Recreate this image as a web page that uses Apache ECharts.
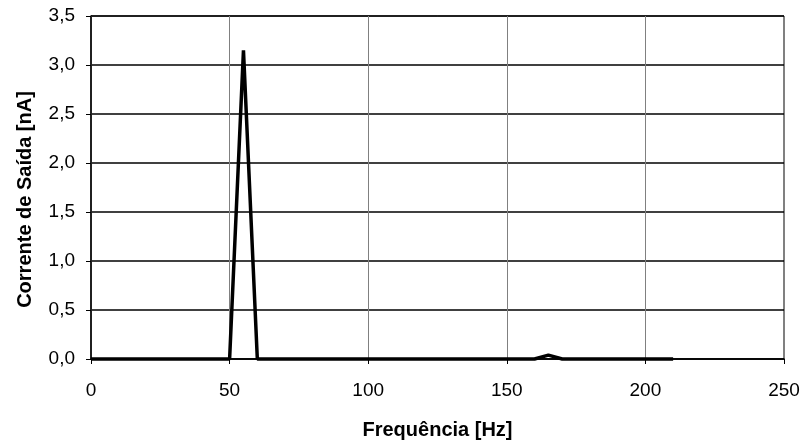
<!DOCTYPE html>
<html>
<head>
<meta charset="utf-8">
<script src="https://cdn.jsdelivr.net/npm/echarts@6/dist/echarts.min.js"></script>
<style>html,body{margin:0;padding:0;background:#fff}#c{width:803px;height:445px}</style>
</head>
<body>
<div id="c"></div>
<script>
const freqHz = [0,5,10,15,20,25,30,35,40,45,50,55,60,65,70,75,80,85,90,95,100,105,110,115,120,125,130,135,140,145,150,155,160,165,170,175,180,185,190,195,200,205,210];
const currentNA = [0,0,0,0,0,0,0,0,0,0,0,3.15,0,0,0,0,0,0,0,0,0,0,0,0,0,0,0,0,0,0,0,0,0,0.04,0,0,0,0,0,0,0,0,0];
const xTitle = 'Frequência [Hz]';
const yTitle = 'Corrente de Saída [nA]';

const chart = echarts.init(document.getElementById('c'), null, {renderer:'canvas'});
const font = 'Liberation Sans, Arial, sans-serif';
chart.setOption({
  animation:false,
  backgroundColor:'#fff',
  grid:{left:91,right:19,top:16,bottom:82,show:true,borderColor:'#000',borderWidth:1},
  xAxis:{
    type:'value',min:0,max:250,interval:50,
    name:xTitle,nameLocation:'middle',nameGap:61,
    nameTextStyle:{fontFamily:font,fontSize:20,fontWeight:'bold',color:'#000'},
    axisLine:{lineStyle:{color:'#000',width:1.5}},
    axisTick:{show:true,inside:false,length:5,lineStyle:{color:'#000'}},
    axisLabel:{fontFamily:font,fontSize:19,color:'#000',margin:22},
    splitLine:{show:true,lineStyle:{color:'#808080',width:1}}
  },
  yAxis:{
    type:'value',min:0,max:3.5,interval:0.5,
    name:yTitle,nameLocation:'middle',nameGap:56,nameRotate:90,
    nameTextStyle:{fontFamily:font,fontSize:20,fontWeight:'bold',color:'#000',padding:[0,24,0,0]},
    axisLine:{show:true,lineStyle:{color:'#000',width:1.5}},
    axisTick:{show:true,inside:false,length:5,lineStyle:{color:'#000'}},
    axisLabel:{fontFamily:font,fontSize:19,color:'#000',margin:16,formatter:v=>v.toFixed(1).replace('.',',')},
    splitLine:{show:true,lineStyle:{color:'#000',width:1.5}}
  },
  series:[{
    type:'line',
    data:freqHz.map((f,i)=>[f,currentNA[i]]),
    showSymbol:false,symbol:'none',
    lineStyle:{color:'#000',width:3.5},
    clip:false
  }]
});
</script>
</body>
</html>
